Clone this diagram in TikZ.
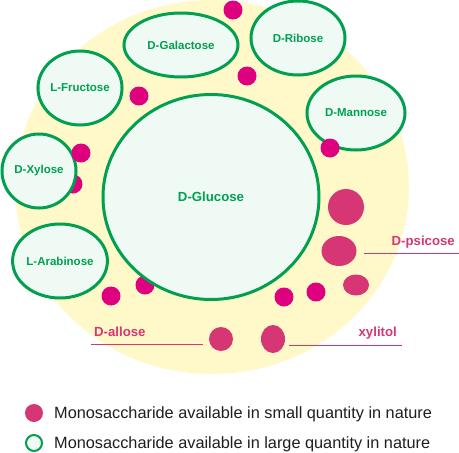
\documentclass[tikz,border=0pt]{standalone}
\usepackage{fontspec}
\setmainfont{Liberation Sans}
\usetikzlibrary{shapes.geometric}
\definecolor{sgreen}{RGB}{0,160,80}
\definecolor{smint}{RGB}{240,250,245}
\definecolor{syellow}{RGB}{255,248,200}
\definecolor{smag}{RGB}{222,0,126}
\definecolor{spink}{RGB}{214,54,115}
\definecolor{stext}{RGB}{30,30,30}
\tikzset{
  big/.style={ellipse, draw=sgreen, line width=3pt, fill=smint, text=sgreen, font=\bfseries\fontsize{11.5}{13}\selectfont, inner sep=0pt},
  smalldot/.style={circle, fill=smag, minimum size=19pt, inner sep=0pt},
  rare/.style={ellipse, fill=spink, inner sep=0pt},
  rarelabel/.style={text=spink, font=\bfseries\fontsize{13.2}{15}\selectfont, inner sep=0pt},
  uline/.style={draw=spink, line width=1pt},
  legendtext/.style={text=stext, font=\fontsize{16.3}{19}\selectfont, anchor=west, inner sep=0pt}
}
\begin{document}
\begin{tikzpicture}[x=1pt,y=-1pt]
\useasboundingbox (0,0) rectangle (459,453);
% background
\node[ellipse, fill=syellow, minimum width=394pt, minimum height=374pt, inner sep=0pt] (bg) at (212,187) {};
% dots behind shapes
\node[smalldot] (d5) at (73,184) {};
\node[smalldot] (d8) at (145,285) {};
% common monosaccharides
\node[big, minimum width=216pt, minimum height=205pt, font=\bfseries\fontsize{13.2}{15}\selectfont] (glucose) at (211,197) {D-Glucose};
\node[big, minimum width=114pt, minimum height=64pt] (galactose) at (181,45) {D-Galactose};
\node[big, minimum width=94pt, minimum height=74pt] (ribose) at (298,38) {D-Ribose};
\node[big, minimum width=70pt, minimum height=74pt] (fructose) at (80,88) {L-Fructose};
\node[big, minimum width=98pt, minimum height=74pt] (mannose) at (356,113) {D-Mannose};
\node[big, minimum width=74pt, minimum height=74pt] (xylose) at (39,171) {D-Xylose};
\node[big, minimum width=81pt, minimum height=74pt] (arabinose) at (60,261) {L-Arabinose};
% small dots
\node[smalldot] (d1) at (233,10) {};
\node[smalldot] (d2) at (247,76) {};
\node[smalldot] (d3) at (139,96) {};
\node[smalldot] (d4) at (81,153) {};
\node[smalldot] (d6) at (330,148) {};
\node[smalldot] (d7) at (111,296) {};
\node[smalldot] (d9) at (284,297) {};
\node[smalldot] (d10) at (316,292) {};
% rare sugars
\node[rare, minimum width=36pt, minimum height=36pt] (r1) at (346,207) {};
\node[rare, minimum width=35pt, minimum height=30pt] (psicose) at (339,251) {};
\node[rare, minimum width=26pt, minimum height=21pt] (r3) at (356,285) {};
\node[rare, minimum width=24pt, minimum height=24pt] (allose) at (221,339) {};
\node[rare, minimum width=24pt, minimum height=28pt] (xylitol) at (273,339) {};
% labels
\node[rarelabel, anchor=base east] (lpsicose) at (455,245) {D-psicose};
\coordinate (pA) at (364,253); \coordinate (pB) at (459,253);
\draw[uline] (pA) -- (pB);
\node[rarelabel, anchor=base west] (lallose) at (94,336) {D-allose};
\coordinate (aA) at (91,344); \coordinate (aB) at (203,344);
\draw[uline] (aA) -- (aB);
\node[rarelabel, anchor=base east] (lxylitol) at (397,336) {xylitol};
\coordinate (xA) at (289,345); \coordinate (xB) at (402,345);
\draw[uline] (xA) -- (xB);
% legend
\node[circle, fill=spink, minimum size=18pt, inner sep=0pt] (legdot) at (34,413) {};
\node[legendtext] (legt1) at (54,414) {Monosaccharide available in small quantity in nature};
\node[circle, draw=sgreen, line width=2pt, fill=smint, minimum size=16pt, inner sep=0pt] (legcirc) at (34,443) {};
\node[legendtext] (legt2) at (54,444) {Monosaccharide available in large quantity in nature};
\end{tikzpicture}
\end{document}
